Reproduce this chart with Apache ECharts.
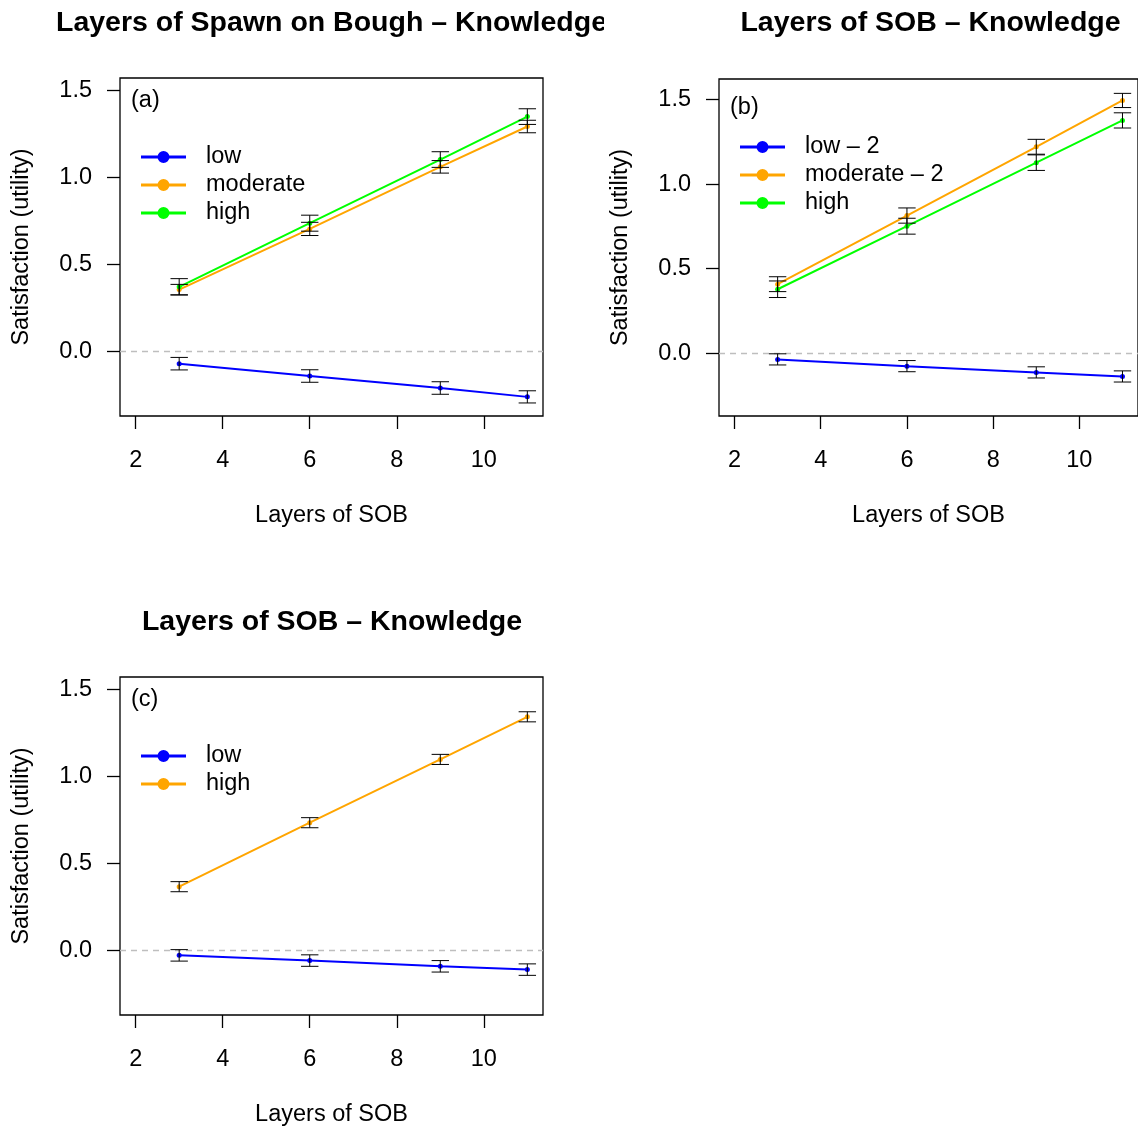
<!DOCTYPE html>
<html><head><meta charset="utf-8">
<script src="https://cdn.jsdelivr.net/npm/echarts@6/dist/echarts.min.js"></script>
<style>html,body{margin:0;padding:0;background:#fff}#c{width:1138px;height:1129px}</style>
</head><body><div id="c"></div>
<script>
// ---------- data ----------
const layers = [3, 6, 9, 11];
const xTicks = [2, 4, 6, 8, 10];
const yTicks = [0, 0.5, 1.0, 1.5];

// panel (a)
const a_low = [-0.071, -0.142, -0.211, -0.262];
const a_low_se = [0.036, 0.036, 0.036, 0.035];
const a_mod = [0.355, 0.704, 1.061, 1.293];
const a_mod_se = [0.030, 0.038, 0.036, 0.036];
const a_high = [0.371, 0.737, 1.103, 1.350];
const a_high_se = [0.047, 0.046, 0.045, 0.045];

// panel (b)
const b_low = [-0.037, -0.077, -0.114, -0.138];
const b_low_se = [0.033, 0.033, 0.033, 0.033];
const b_mod = [0.408, 0.814, 1.221, 1.495];
const b_mod_se = [0.044, 0.045, 0.044, 0.042];
const b_high = [0.378, 0.751, 1.127, 1.377];
const b_high_se = [0.049, 0.047, 0.046, 0.045];

// panel (c)
const c_low = [-0.029, -0.059, -0.092, -0.111];
const c_low_se = [0.033, 0.033, 0.033, 0.033];
const c_high = [0.366, 0.734, 1.098, 1.343];
const c_high_se = [0.029, 0.029, 0.029, 0.029];

const titles = ['Layers of Spawn on Bough – Knowledge', 'Layers of SOB – Knowledge', 'Layers of SOB – Knowledge'];
const tags = ['(a)', '(b)', '(c)'];
const xName = 'Layers of SOB';
const yName = 'Satisfaction (utility)';

// ---------- styling ----------
const FONT = '"Liberation Sans", Arial, Helvetica, sans-serif';
const FS = 23.5;
const BLUE = '#0000FF', ORANGE = '#FFA500', GREEN = '#00FF00';

const panels = [
  { grid: {left: 120, top: 78, width: 423, height: 338}, ymin: -0.372, ymax: 1.572,
    legend: {left: 141, top: 141}, tag: {left: 131, top: 87}, title: {left: 331.5, top: 7},
    series: [
      {name: 'low', color: BLUE, v: a_low, e: a_low_se},
      {name: 'moderate', color: ORANGE, v: a_mod, e: a_mod_se},
      {name: 'high', color: GREEN, v: a_high, e: a_high_se}
    ]},
  { grid: {left: 719, top: 79, width: 423, height: 337}, ymin: -0.372, ymax: 1.622,
    legend: {left: 740, top: 131}, tag: {left: 730, top: 94}, title: {left: 930.5, top: 7},
    series: [
      {name: 'low – 2', color: BLUE, v: b_low, e: b_low_se},
      {name: 'moderate – 2', color: ORANGE, v: b_mod, e: b_mod_se},
      {name: 'high', color: GREEN, v: b_high, e: b_high_se}
    ]},
  { grid: {left: 120, top: 677, width: 423, height: 338}, ymin: -0.372, ymax: 1.572,
    legend: {left: 141, top: 740}, tag: {left: 131, top: 686}, title: {left: 332, top: 606},
    series: [
      {name: 'low', color: BLUE, v: c_low, e: c_low_se},
      {name: 'high', color: ORANGE, v: c_high, e: c_high_se}
    ]}
];

const LEGEND_ICON = 'path://M0,4.4H45V7.6H0Z M16.5,6A6,6 0 1,1 28.5,6A6,6 0 1,1 16.5,6Z';

function errRender(params, api) {
  const x = api.value(0), lo = api.value(1), hi = api.value(2);
  const p1 = api.coord([x, lo]), p2 = api.coord([x, hi]);
  const w = 8.7;
  const st = {stroke: '#000', lineWidth: 1};
  return {type: 'group', children: [
    {type: 'line', shape: {x1: p1[0], y1: p1[1], x2: p2[0], y2: p2[1]}, style: st},
    {type: 'line', shape: {x1: p1[0] - w, y1: p1[1], x2: p1[0] + w, y2: p1[1]}, style: st},
    {type: 'line', shape: {x1: p2[0] - w, y1: p2[1], x2: p2[0] + w, y2: p2[1]}, style: st}
  ]};
}

const option = {
  animation: false,
  backgroundColor: '#fff',
  textStyle: {fontFamily: FONT},
  grid: [], xAxis: [], yAxis: [], series: [], legend: [], title: [],
  graphic: [
    // the reference's first title is clipped at its figure region edge
    {type: 'rect', shape: {x: 604, y: 0, width: 120, height: 50}, style: {fill: '#fff'}, z: 100}
  ]
};

panels.forEach((p, i) => {
  option.grid.push(Object.assign({show: true, borderColor: '#000', borderWidth: 1.3, backgroundColor: 'transparent'}, p.grid));
  option.xAxis.push({
    type: 'value', gridIndex: i, min: 1.64, max: 11.36,
    name: xName, nameLocation: 'middle', nameGap: 88,
    nameTextStyle: {fontFamily: FONT, fontSize: FS, color: '#000'},
    axisLine: {show: false, onZero: false}, splitLine: {show: false},
    axisTick: {show: true, length: 13, inside: false, customValues: xTicks, lineStyle: {color: '#000', width: 1.3}},
    axisLabel: {show: true, margin: 33, customValues: xTicks, fontFamily: FONT, fontSize: FS, color: '#000'}
  });
  option.yAxis.push({
    type: 'value', gridIndex: i, min: p.ymin, max: p.ymax,
    name: yName, nameLocation: 'middle', nameGap: 86, nameRotate: 90,
    nameTextStyle: {fontFamily: FONT, fontSize: FS, color: '#000'},
    axisLine: {show: false, onZero: false}, splitLine: {show: false},
    axisTick: {show: true, length: 13, inside: false, customValues: yTicks, lineStyle: {color: '#000', width: 1.3}},
    axisLabel: {show: true, margin: 28, customValues: yTicks, fontFamily: FONT, fontSize: FS, color: '#000',
      padding: [4, 0, 0, 0], formatter: v => v.toFixed(1)}
  });
  const legendData = [];
  p.series.forEach((s, j) => {
    const id = 'p' + i + '|' + s.name;
    legendData.push({name: id, icon: LEGEND_ICON});
    const line = {
      type: 'line', name: id, xAxisIndex: i, yAxisIndex: i,
      data: layers.map((x, k) => [x, s.v[k]]),
      color: s.color,
      lineStyle: {color: s.color, width: 2},
      itemStyle: {color: s.color},
      symbol: 'circle', symbolSize: 5, showSymbol: true, z: 3, silent: true
    };
    if (j === 0) {
      line.markLine = {
        silent: true, symbol: ['none', 'none'], label: {show: false},
        lineStyle: {color: '#BEBEBE', type: [6, 5], width: 1.3},
        data: [{yAxis: 0}], z: 1
      };
    }
    option.series.push(line);
    option.series.push({
      type: 'custom', name: id + '|err', xAxisIndex: i, yAxisIndex: i,
      data: layers.map((x, k) => [x, s.v[k] - s.e[k], s.v[k] + s.e[k]]),
      encode: {x: 0, y: [1, 2]},
      renderItem: errRender, z: 4, silent: true
    });
  });
  option.legend.push({
    orient: 'vertical', left: p.legend.left, top: p.legend.top + 2, padding: 0,
    itemWidth: 45, itemHeight: 12, itemGap: 0, selectedMode: false,
    data: legendData,
    itemStyle: {borderWidth: 0},
    formatter: n => n.split('|')[1],
    textStyle: {fontFamily: FONT, fontSize: FS, color: '#000', lineHeight: 28, padding: [0, 0, 0, 15]}
  });
  option.title.push({
    text: titles[i], left: p.title.left, top: p.title.top, textAlign: 'center', padding: 0,
    textStyle: {fontFamily: FONT, fontSize: 28.5, fontWeight: 'bold', color: '#000', lineHeight: 32}
  });
  option.title.push({
    text: tags[i], left: p.tag.left, top: p.tag.top, padding: 0,
    textStyle: {fontFamily: FONT, fontSize: FS, fontWeight: 'normal', color: '#000', lineHeight: 28}
  });
});

const chart = echarts.init(document.getElementById('c'), null, {renderer: 'canvas'});
chart.setOption(option);
</script>
</body></html>
